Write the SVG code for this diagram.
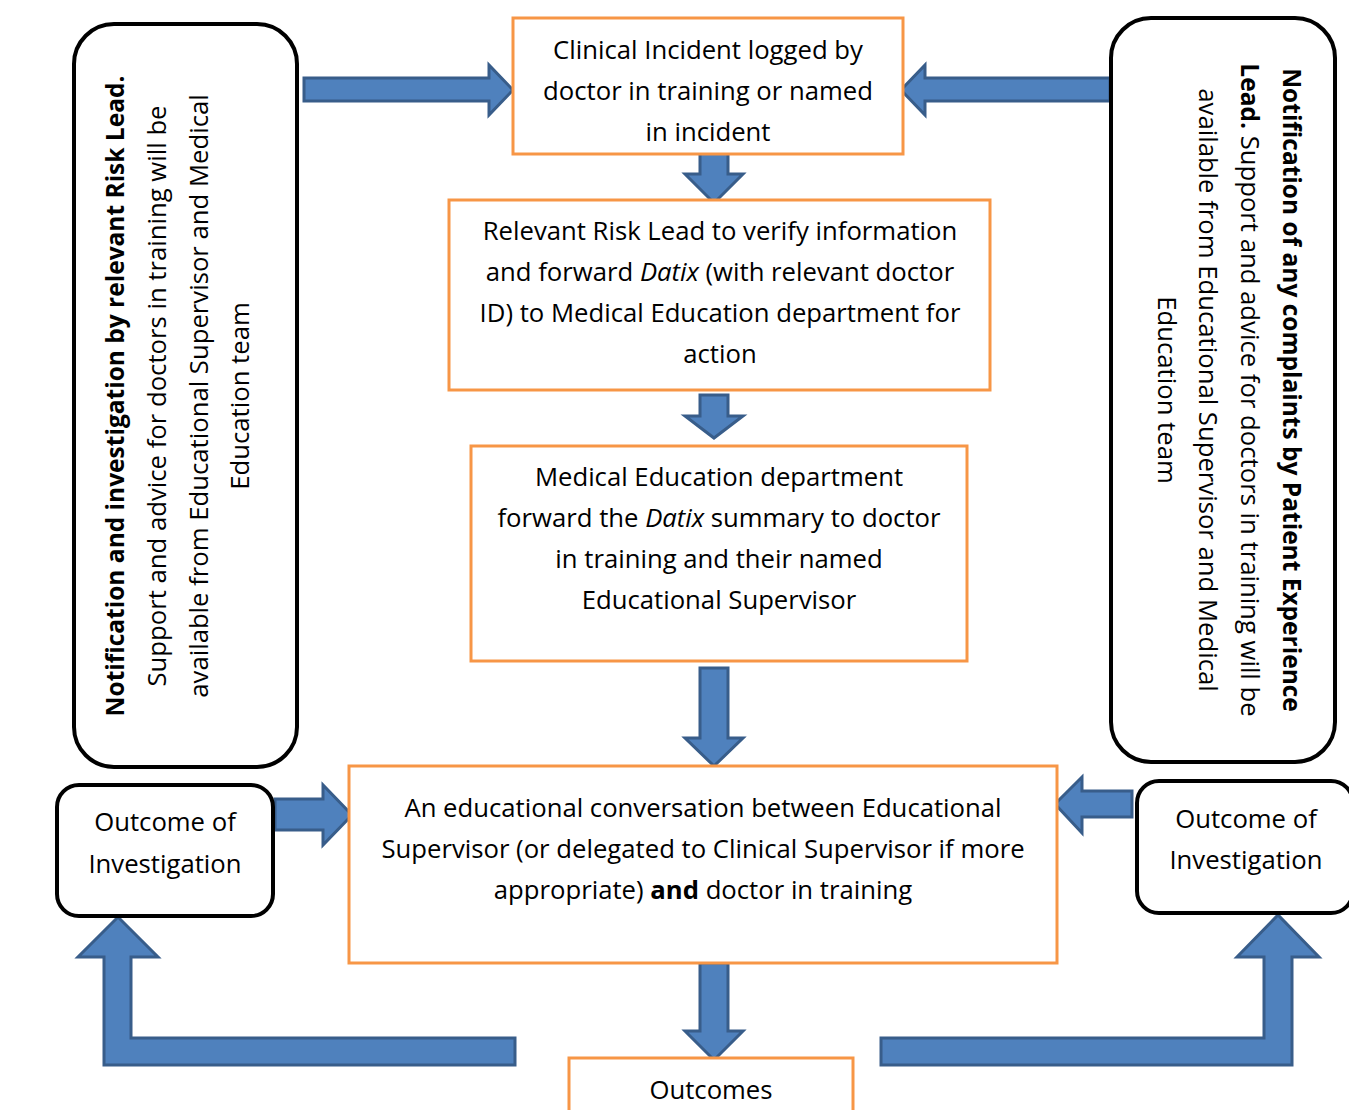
<svg xmlns="http://www.w3.org/2000/svg" width="1349" height="1110" viewBox="0 0 1349 1110">
<style>
text{font-family:"Open Sans",Lato,"Liberation Sans",sans-serif;font-size:25.7px;fill:#000;text-anchor:middle}
.ob{fill:#fff;stroke:#F79646;stroke-width:3}
.rb{fill:#fff;stroke:#000;stroke-width:4}
.ar{fill:#4F81BD;stroke:#385D8A;stroke-width:3;stroke-linejoin:miter}
.b{font-weight:bold}
.bh{font-weight:bold;font-size:24.5px}
.i{font-style:italic}
</style>
<rect width="1349" height="1110" fill="#fff"/>
<g id="connectors">
<polygon class="ar" points="304,78 489,78 489,65 513,90 489,115 489,101 304,101"/>
<polygon class="ar" points="1110,78 925,78 925,65 901,90 925,115 925,101 1110,101"/>
<polygon class="ar" points="700,152 728,152 728,174 743,174 714,203 685,174 700,174"/>
<polygon class="ar" points="700,395 728,395 728,416 743,416 714,438 685,416 700,416"/>
<polygon class="ar" points="700,668 728,668 728,738 743,738 714,766 685,738 700,738"/>
<polygon class="ar" points="700,963 728,963 728,1031 743,1031 714,1060 685,1031 700,1031"/>
<polygon class="ar" points="275,799 323,799 323,785 352,815 323,845 323,830 275,830"/>
<polygon class="ar" points="1132,791 1082,791 1082,777 1055,804 1082,833 1082,817 1132,817"/>
<polygon class="ar" points="515,1038 515,1065 104,1065 104,957 78,957 118,917 158,957 131,957 131,1038"/>
<polygon class="ar" points="881,1038 881,1065 1292,1065 1292,957 1319,957 1278,915 1237,957 1264,957 1264,1038"/>
</g>
<g id="node-incident">
<rect class="ob" x="513" y="18" width="390" height="136"/>
<text x="708" y="59">Clinical Incident logged by</text>
<text x="708" y="100">doctor in training or named</text>
<text x="708" y="141">in incident</text>
</g>
<g id="node-risklead">
<rect class="ob" x="449" y="200" width="541" height="190"/>
<text x="720" y="240">Relevant Risk Lead to verify information</text>
<text x="720" y="281">and forward <tspan class="i">Datix</tspan> (with relevant doctor</text>
<text x="720" y="322">ID) to Medical Education department for</text>
<text x="720" y="363">action</text>
</g>
<g id="node-meded">
<rect class="ob" x="471" y="446" width="496" height="215"/>
<text x="719" y="486">Medical Education department</text>
<text x="719" y="527">forward the <tspan class="i">Datix</tspan> summary to doctor</text>
<text x="719" y="568">in training and their named</text>
<text x="719" y="609">Educational Supervisor</text>
</g>
<g id="node-conversation">
<rect class="ob" x="349" y="766" width="708" height="197"/>
<text x="703" y="817">An educational conversation between Educational</text>
<text x="703" y="858">Supervisor (or delegated to Clinical Supervisor if more</text>
<text x="703" y="899">appropriate) <tspan class="b">and</tspan> doctor in training</text>
</g>
<g id="node-outcomes">
<rect class="ob" x="569" y="1058" width="284" height="60"/>
<text x="711" y="1099">Outcomes</text>
</g>
<g id="node-risk-notification">
<rect class="rb" x="74" y="24" width="223" height="743" rx="40"/>
<text transform="translate(124,396) rotate(-90)" class="bh">Notification and investigation by relevant Risk Lead.</text>
<text transform="translate(166,396) rotate(-90)">Support and advice for doctors in training will be</text>
<text transform="translate(208,396) rotate(-90)">available from Educational Supervisor and Medical</text>
<text transform="translate(249,396) rotate(-90)">Education team</text>
</g>
<g id="node-complaints-notification">
<rect class="rb" x="1111" y="18" width="224" height="744" rx="40"/>
<text transform="translate(1283,390) rotate(90)" class="bh">Notification of any complaints by Patient Experience</text>
<text transform="translate(1241,390) rotate(90)"><tspan class="bh">Lead.</tspan>  Support and advice for doctors in training will be</text>
<text transform="translate(1199,390) rotate(90)">available from Educational Supervisor and Medical</text>
<text transform="translate(1158,390) rotate(90)">Education team</text>
</g>
<g id="node-outcome-left">
<rect class="rb" x="57" y="785" width="216" height="131" rx="22"/>
<text x="165" y="831">Outcome of</text>
<text x="165" y="873">Investigation</text>
</g>
<g id="node-outcome-right">
<rect class="rb" x="1137" y="781" width="216" height="132" rx="22"/>
<text x="1246" y="828">Outcome of</text>
<text x="1246" y="869">Investigation</text>
</g>
</svg>
